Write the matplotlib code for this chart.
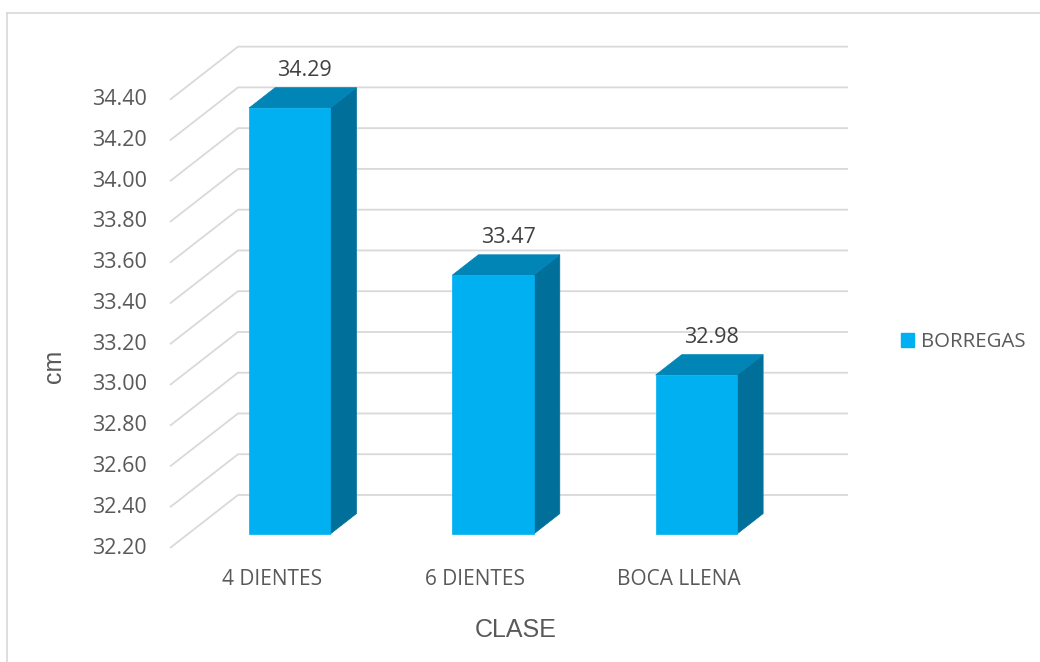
import matplotlib
matplotlib.use("Agg")
import matplotlib.pyplot as plt
from matplotlib.patches import Polygon, Patch
from matplotlib.lines import Line2D

# Data
categories = ["4 DIENTES", "6 DIENTES", "BOCA LLENA"]
values = [34.29, 33.47, 32.98]
series_name = "BORREGAS"
y_ticks = [32.20, 32.40, 32.60, 32.80, 33.00, 33.20, 33.40, 33.60, 33.80, 34.00, 34.20, 34.40]
x_title = "CLASE"
y_title = "cm"

# Colours
FRONT = "#00B0F0"
TOP = "#0085B6"
SIDE = "#006F9A"
GRID = "#D9D9D9"
TXT = "#595959"
LBL = "#404040"
FONT = "Open Sans"

W, H, DPI = 1040, 662, 100
fig = plt.figure(figsize=(W / DPI, H / DPI), dpi=DPI)
ax = fig.add_axes([0, 0, 1, 1])
ax.set_axis_off()

# Oblique projection setup: pixels per category unit / per value unit
px_per_cat = 203.33
px_per_val = 203.8
floor_left_px = 170
floor_front_px = 548
y_base = y_ticks[0]
x0 = -0.5
ax.set_xlim(x0 - floor_left_px / px_per_cat, x0 + (W - floor_left_px) / px_per_cat)
ax.set_ylim(y_base - (H - floor_front_px) / px_per_val, y_base + floor_front_px / px_per_val)

# full depth vector (front floor edge -> back wall)
DX = 68 / px_per_cat
DY = 53 / px_per_val
n = len(categories)
x_right = x0 + n


def proj(x, v, d):
    return (x + d * DX, v + d * DY)


# Gridlines: diagonal on the side wall + horizontal on the back wall
for t in y_ticks:
    xs = [x0, x0 + DX, x_right + DX]
    ys = [t, t + DY, t + DY]
    ax.add_line(Line2D(xs, ys, color=GRID, lw=1.3, zorder=1, solid_capstyle="butt"))
    ax.text(x0 - 23 / px_per_cat, t, f"{t:.2f}", ha="right", va="center",
            fontsize=15.5, color=TXT, family=FONT)

# Bars
bar_w = 0.40
d_front = 0.264
d_back = d_front + 0.385
for i, (cat, v) in enumerate(zip(categories, values)):
    xl, xr = i - bar_w / 2, i + bar_w / 2
    front = [proj(xl, y_base, d_front), proj(xr, y_base, d_front),
             proj(xr, v, d_front), proj(xl, v, d_front)]
    top = [proj(xl, v, d_front), proj(xr, v, d_front),
           proj(xr, v, d_back), proj(xl, v, d_back)]
    side = [proj(xr, y_base, d_front), proj(xr, y_base, d_back),
            proj(xr, v, d_back), proj(xr, v, d_front)]
    ax.add_patch(Polygon(side, closed=True, fc=SIDE, ec=SIDE, lw=0.5, zorder=3))
    ax.add_patch(Polygon(top, closed=True, fc=TOP, ec=TOP, lw=0.5, zorder=3))
    ax.add_patch(Polygon(front, closed=True, fc=FRONT, ec=FRONT, lw=0.5, zorder=4))
    # value label above the top face
    lx, ly = proj(i, v, (d_front + d_back) / 2)
    ax.text(lx + 0.01, ly + 27 / px_per_val, f"{v:.2f}", ha="center", va="center",
            fontsize=15.5, color=LBL, family=FONT, zorder=5)
    # category label under the floor
    ax.text(i, y_base - 32 / px_per_val, cat, ha="center", va="center",
            fontsize=15, color=TXT, family=FONT)

# Axis titles
ax.text(1.2, y_base - 82 / px_per_val, x_title,
        ha="center", va="center", fontsize=18, color=TXT, family="Liberation Sans")
fig.text(54 / W, 1 - 366 / H, y_title, rotation=90, ha="center", va="center",
         fontsize=18, color=TXT, family="Liberation Sans")

# Legend
leg = fig.legend(handles=[Patch(fc=FRONT, ec=FRONT, label=series_name)],
                 loc="center left", bbox_to_anchor=(893 / W, 1 - 342 / H),
                 frameon=False, handlelength=0.65, handleheight=0.65,
                 handletextpad=0.3, borderaxespad=0,
                 prop={"family": FONT, "size": 14.7})
for t in leg.get_texts():
    t.set_color(TXT)

# Chart area border (top and left edges visible)
fig.add_artist(Line2D([7 / W, 7 / W], [0, 1 - 13 / H], color=GRID, lw=1.2,
                      transform=fig.transFigure))
fig.add_artist(Line2D([7 / W, 1], [1 - 13 / H, 1 - 13 / H], color=GRID, lw=1.2,
                      transform=fig.transFigure))

fig.savefig("out.png", dpi=DPI, facecolor="white")
